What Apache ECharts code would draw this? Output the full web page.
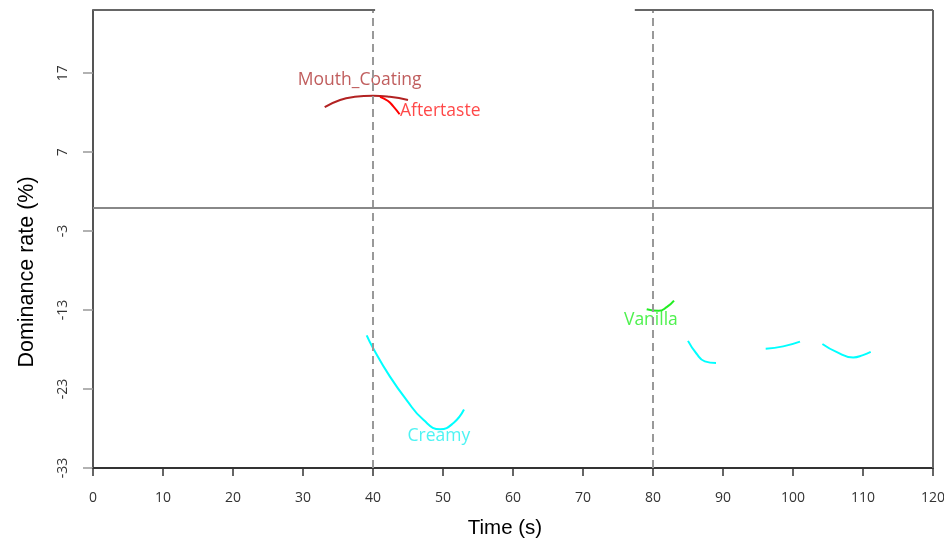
<!DOCTYPE html>
<html>
<head>
<meta charset="utf-8">
<script src="https://cdn.jsdelivr.net/npm/echarts@6/dist/echarts.min.js"></script>
<style>html,body{margin:0;padding:0;background:#fff}#c{width:944px;height:544px}</style>
</head>
<body>
<div id="c"></div>
<script>
// ---- data ----
var xTicks = [0,10,20,30,40,50,60,70,80,90,100,110,120];
var yTicks = [-33,-23,-13,-3,7,17];
var mouthCoating = [[33.1,12.7],[35.3,13.6],[37.4,14.0],[40,14.15],[42.4,14.0],[45,13.6]];
var aftertaste = [[41,14.0],[42.1,13.5],[42.9,12.8],[43.8,11.8]];
var creamy = [[39.1,-16.2],[40,-17.8],[42.4,-21.4],[44.8,-24.4],[47.2,-26.9],[49.6,-28.1],[51.5,-27.3],[53,-25.6],
  [null,null],
  [85.0,-16.9],[86.2,-18.5],[87.4,-19.5],[89,-19.7],
  [null,null],
  [96.1,-17.9],[98.6,-17.6],[101,-17.0],
  [null,null],
  [104.2,-17.3],[106.2,-18.3],[108.6,-19.0],[110,-18.7],[111.1,-18.3]];
var vanilla = [[79.1,-12.9],[80.8,-13.1],[82,-12.6],[83,-11.8]];
var periodLines = [40, 80];
var labelNames = ['Mouth_Coating','Aftertaste','Creamy','Vanilla'];
var labelPos = [[38.1,16.1],[49.6,12.2],[49.4,-28.9],[79.7,-14.3]];
var labelColors = ['#b03434','#ff1a1a','#22f0f0','#22ee22'];

var chart = echarts.init(document.getElementById('c'), null, {renderer:'canvas'});
var tickFont = {fontFamily:'Open Sans', fontSize:14, color:'#333'};

function curve(name, data, color){
  return {type:'line', name:name, data:data, smooth:true, showSymbol:false, symbol:'none',
    connectNulls:false, lineStyle:{color:color, width:2}, z:3, animation:false};
}

var series = [
  {type:'line', data:[], animation:false, silent:true,
   markLine:{symbol:'none', silent:true, animation:false, label:{show:false},
     data: periodLines.map(function(v){return {xAxis:v, lineStyle:{color:'#999', type:[8,5], width:2}};})
       .concat([{yAxis:0, lineStyle:{color:'#888', type:'solid', width:2}}])
       .concat([
         [{coord:[0,25], lineStyle:{color:'#666', type:'solid', width:2}},{coord:[40.3,25]}],
         [{coord:[77.4,25], lineStyle:{color:'#666', type:'solid', width:2}},{coord:[120,25]}],
         [{coord:[120,25], lineStyle:{color:'#666', type:'solid', width:2}},{coord:[120,-33]}]
       ])
   }},
  curve('Mouth_Coating', mouthCoating, '#b22222'),
  curve('Aftertaste', aftertaste, '#ff0000'),
  curve('Creamy', creamy, '#00ffff'),
  curve('Vanilla', vanilla, '#22ee22'),
  {type:'scatter', symbolSize:0, animation:false, silent:true, z:4,
   data: labelNames.map(function(n,i){
     return {value:labelPos[i], name:n,
       label:{show:true, position:'inside', formatter:n, color:labelColors[i],
              fontFamily:'Open Sans', fontSize:17.5}};
   })}
];

chart.setOption({
  animation:false,
  backgroundColor:'#fff',
  grid:{left:93, right:11, top:10, bottom:76, containLabel:false, outerBoundsMode:'none'},
  xAxis:{type:'value', min:0, max:120, interval:10,
    axisLine:{show:true, onZero:false, lineStyle:{color:'#333', width:2}},
    axisTick:{show:true, length:8, lineStyle:{color:'#333', width:1.5}},
    axisLabel:Object.assign({margin:23}, tickFont),
    splitLine:{show:false}},
  yAxis:{type:'value', min:-33, max:25, interval:10,
    axisLine:{show:true, onZero:false, lineStyle:{color:'#555', width:2}},
    axisTick:{show:true, length:10, lineStyle:{color:'#999', width:1.5}},
    axisLabel:Object.assign({rotate:90, margin:23, showMaxLabel:false,
      formatter:function(v){return yTicks.indexOf(v)>=0 ? String(v) : '';}}, tickFont),
    splitLine:{show:false}},
  graphic:[
    {type:'text', x:505, y:528, style:{text:'Time (s)', fontFamily:'Liberation Sans', fontSize:20.5, fill:'#000', align:'center', verticalAlign:'middle'}},
    {type:'text', x:27, y:272, rotation:Math.PI/2, style:{text:'Dominance rate (%)', fontFamily:'Liberation Sans', fontSize:21.5, fill:'#000', align:'center', verticalAlign:'middle'}}
  ],
  series:series
});
</script>
</body>
</html>
